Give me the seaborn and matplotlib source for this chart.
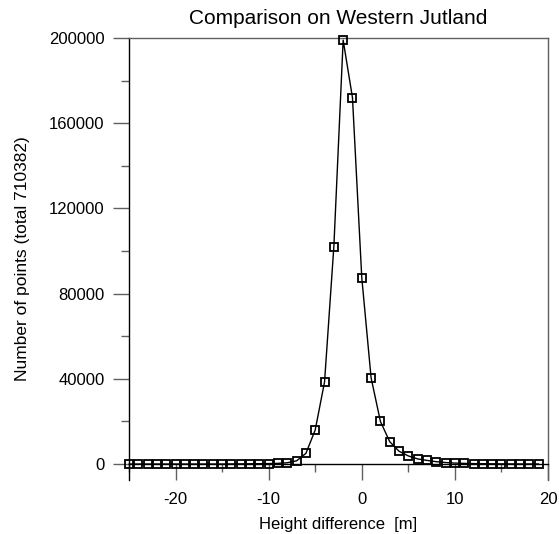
import matplotlib
matplotlib.use("Agg")
import matplotlib.pyplot as plt
import seaborn as sns
import pandas as pd
from matplotlib.ticker import FixedLocator

height_diff = list(range(-25, 20))
counts = [0, 0, 0, 0, 0, 0, 0, 0, 0, 0, 0, 50, 80, 120, 150, 200, 300, 600,
          1500, 5000, 16000, 38500, 102000, 199000, 172000, 87500, 40500, 20000,
          10500, 6000, 3800, 2400, 1700, 1100, 700, 450, 300, 200, 150, 100, 70,
          50, 30, 20, 10]

title = "Comparison on Western Jutland"
xlabel = "Height difference  [m]"
ylabel = "Number of points (total 710382)"
y_major = [0, 40000, 80000, 120000, 160000, 200000]
y_minor = [20000, 60000, 100000, 140000, 180000]
x_major = [-20, -10, 0, 10, 20]
x_minor = [-25, -15, -5, 5, 15]

sns.set_style("ticks")
plt.rcParams['font.family'] = ['Liberation Sans', 'DejaVu Sans']
plt.rcParams['text.color'] = 'black'
plt.rcParams['axes.labelcolor'] = 'black'
plt.rcParams['xtick.labelcolor'] = 'black'
plt.rcParams['ytick.labelcolor'] = 'black'

df = pd.DataFrame({"x": height_diff, "y": counts})

fig = plt.figure(figsize=(5.59, 5.34), dpi=100)
ax = fig.add_axes([129/559, 1-480/534, (548-129)/559, (480-38)/534])

sns.lineplot(data=df, x="x", y="y", ax=ax, color="black", linewidth=1.0,
             marker="s", markersize=5.5, markerfacecolor="none",
             markeredgecolor="black", markeredgewidth=1.3, clip_on=False, zorder=5)

ax.set_xlim(-25, 20)
ax.set_ylim(-7500, 200000)

ax.spines['bottom'].set_position(('data', 0))
gray = "#606060"
ax.spines['bottom'].set_color("black")
ax.spines['left'].set_color("black")
ax.spines['top'].set_color(gray)
ax.spines['right'].set_color(gray)
for s in ax.spines.values():
    s.set_linewidth(1.0)
    s.set_visible(True)

ax.xaxis.set_major_locator(FixedLocator(x_major))
ax.xaxis.set_minor_locator(FixedLocator(x_minor))
ax.yaxis.set_major_locator(FixedLocator(y_major))
ax.yaxis.set_minor_locator(FixedLocator(y_minor))
ax.set_xticklabels([str(v) for v in x_major])
ax.set_yticklabels([str(v) for v in y_major])

ax.tick_params(axis='both', which='major', direction='out', length=11.5, width=1.0,
               color=gray, labelsize=12, pad=6, labelcolor='black')
ax.tick_params(axis='both', which='minor', direction='out', length=5.5, width=1.0,
               color=gray)
ax.tick_params(axis='x', which='major', pad=9)

ax.set_xlabel(xlabel, fontsize=12, labelpad=7, color='black')
ax.set_ylabel(ylabel, fontsize=12.5, labelpad=14, color='black')
ax.set_title(title, fontsize=15, pad=10, color='black')

fig.savefig("out.png", dpi=100, facecolor="white")
